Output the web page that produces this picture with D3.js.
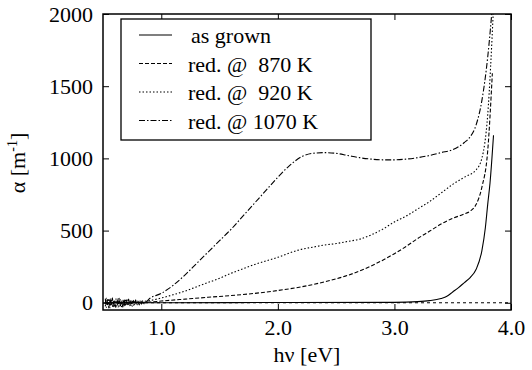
<!DOCTYPE html>
<html>
<head>
<meta charset="utf-8">
<script src="https://cdn.jsdelivr.net/npm/d3@7"></script>
</head>
<body style="margin:0">
<svg id="s" width="532" height="370"></svg>
<script>
// photon energy (eV) vs absorption coefficient (m^-1)
const asGrown = [
  [0.52, 0], [1.0, 0], [2.0, 2], [3.0, 3], [3.2, 8], [3.3, 15], [3.4, 30], [3.45, 45],
  [3.5, 75], [3.55, 105], [3.6, 140], [3.65, 175], [3.7, 230], [3.75, 360], [3.78, 520],
  [3.8, 680], [3.82, 830], [3.85, 1160]
];
const red870 = [
  [0.52, 0], [0.8, 2], [0.9, 5], [1.0, 12], [1.2, 25], [1.4, 38], [1.6, 50], [1.8, 65],
  [2.0, 85], [2.2, 110], [2.4, 145], [2.6, 190], [2.8, 255], [3.0, 340], [3.1, 390],
  [3.2, 445], [3.3, 495], [3.4, 545], [3.5, 585], [3.6, 615], [3.65, 635], [3.7, 680],
  [3.75, 800], [3.8, 1050], [3.84, 1590]
];
const red920 = [
  [0.52, -25], [0.53, 33], [0.54, -20], [0.55, 29], [0.56, -34], [0.57, 24], [0.58, -28],
  [0.59, 17], [0.60, -31], [0.61, 26], [0.62, -19], [0.63, 30], [0.64, -23], [0.65, 21],
  [0.66, -27], [0.67, 18], [0.68, -22], [0.69, 25], [0.70, -16], [0.71, 20], [0.72, -18],
  [0.73, 14], [0.74, -21], [0.75, 13], [0.76, -17], [0.77, 15], [0.78, -11], [0.79, 13],
  [0.80, -9], [0.81, 12], [0.82, -7], [0.83, 10], [0.84, -5], [0.85, 9], [0.9, 15],
  [1.0, 33], [1.1, 55], [1.2, 80], [1.3, 110], [1.4, 140], [1.5, 170], [1.6, 205],
  [1.7, 235], [1.8, 265], [1.9, 290], [2.0, 315], [2.1, 345], [2.2, 370], [2.3, 385],
  [2.4, 400], [2.5, 410], [2.6, 425], [2.7, 440], [2.8, 470], [2.9, 510], [3.0, 560],
  [3.1, 600], [3.2, 650], [3.3, 700], [3.4, 760], [3.5, 820], [3.6, 870], [3.7, 920],
  [3.75, 1000], [3.8, 1300], [3.85, 2050]
];
const red1070 = [
  [0.52, 28], [0.53, -31], [0.54, 22], [0.55, -36], [0.56, 30], [0.57, -18], [0.58, 34],
  [0.59, -27], [0.60, 19], [0.61, -33], [0.62, 25], [0.63, -29], [0.64, 31], [0.65, -22],
  [0.66, 17], [0.67, -30], [0.68, 24], [0.69, -25], [0.70, 20], [0.71, -19], [0.72, 26],
  [0.73, -21], [0.74, 15], [0.75, -24], [0.76, 18], [0.77, -14], [0.78, 21], [0.79, -17],
  [0.80, 12], [0.81, -15], [0.82, 16], [0.83, -10], [0.84, 14], [0.85, -6], [0.9, 30],
  [1.0, 65], [1.1, 120], [1.2, 190], [1.3, 270], [1.4, 350], [1.5, 430], [1.6, 510],
  [1.7, 600], [1.8, 690], [1.9, 780], [2.0, 870], [2.1, 950], [2.2, 1010], [2.3, 1035],
  [2.4, 1040], [2.5, 1035], [2.6, 1020], [2.7, 1005], [2.8, 995], [2.9, 990], [3.0, 990],
  [3.1, 995], [3.2, 1005], [3.3, 1020], [3.4, 1040], [3.5, 1060], [3.6, 1110],
  [3.65, 1150], [3.7, 1230], [3.75, 1400], [3.8, 1700], [3.84, 2050]
];

const seriesNames = ['as grown', 'red. @  870 K', 'red. @  920 K', 'red. @ 1070 K'];
const seriesData = [asGrown, red870, red920, red1070];
const seriesDash = ['none', '4,2', '1.5,2', '6,2,1.5,2'];

const xTicks = [1.0, 2.0, 3.0, 4.0];
const yTicks = [0, 500, 1000, 1500, 2000];

const svg = d3.select('#s');
const plotLeft = 103, plotRight = 511, plotTop = 14, plotBottom = 310;

const x = d3.scaleLinear().domain([0.5, 4.0]).range([plotLeft, plotRight]);
const y = d3.scaleLinear().domain([-50, 2000]).range([plotBottom, plotTop]);

svg.append('defs').append('clipPath')
    .attr('id', 'plot-clip')
  .append('rect')
    .attr('x', plotLeft).attr('y', plotTop)
    .attr('width', plotRight - plotLeft).attr('height', plotBottom - plotTop);

// axes, ticks pointing inward on all four sides
const xAxis = svg.append('g')
    .attr('transform', `translate(0,${plotBottom})`)
    .call(d3.axisBottom(x).tickValues(xTicks).tickFormat(d3.format('.1f'))
      .tickSize(-6).tickPadding(9));
const xAxisTop = svg.append('g')
    .attr('transform', `translate(0,${plotTop})`)
    .call(d3.axisTop(x).tickValues(xTicks).tickFormat('').tickSize(-6));
const yAxis = svg.append('g')
    .attr('transform', `translate(${plotLeft},0)`)
    .call(d3.axisLeft(y).tickValues(yTicks).tickFormat(d3.format('d'))
      .tickSize(-6).tickPadding(10));
const yAxisRight = svg.append('g')
    .attr('transform', `translate(${plotRight},0)`)
    .call(d3.axisRight(y).tickValues(yTicks).tickFormat('').tickSize(-6));

[xAxis, xAxisTop, yAxis, yAxisRight].forEach(g => {
  g.select('.domain').remove();
  g.selectAll('line').attr('stroke', '#000').attr('stroke-width', 1);
  g.selectAll('text')
    .attr('fill', '#000')
    .attr('font-size', 22)
    .style('font-family', '"Liberation Serif"');
});

// zero reference line
svg.append('line')
    .attr('x1', x(0.5)).attr('x2', x(4.0))
    .attr('y1', y(0)).attr('y2', y(0))
    .attr('stroke', '#000')
    .attr('stroke-width', 1)
    .attr('stroke-dasharray', '3,3');

const line = d3.line()
    .x(d => x(d[0]))
    .y(d => y(d[1]))
    .curve(d3.curveMonotoneX);

svg.append('g')
    .attr('clip-path', 'url(#plot-clip)')
  .selectAll('path')
  .data(seriesData)
  .join('path')
    .attr('d', line)
    .attr('fill', 'none')
    .attr('stroke', '#000')
    .attr('stroke-width', 1.1)
    .attr('stroke-dasharray', (d, i) => seriesDash[i]);

// frame
svg.append('rect')
    .attr('x', plotLeft).attr('y', plotTop)
    .attr('width', plotRight - plotLeft).attr('height', plotBottom - plotTop)
    .attr('fill', 'none')
    .attr('stroke', '#000')
    .attr('stroke-width', 1.5);

// legend
const legend = svg.append('g');
legend.append('rect')
    .attr('x', 121).attr('y', 19)
    .attr('width', 250).attr('height', 121)
    .attr('fill', '#fff')
    .attr('stroke', '#000')
    .attr('stroke-width', 1.3);

legend.selectAll('line.sample')
  .data(seriesNames)
  .join('line')
    .attr('class', 'sample')
    .attr('x1', 139).attr('x2', 172)
    .attr('y1', (d, i) => 35 + i * 28.5)
    .attr('y2', (d, i) => 35 + i * 28.5)
    .attr('stroke', '#000')
    .attr('stroke-width', 1.1)
    .attr('stroke-dasharray', (d, i) => seriesDash[i]);

legend.selectAll('text')
  .data(seriesNames)
  .join('text')
    .attr('x', (d, i) => i === 0 ? 191 : 188)
    .attr('y', (d, i) => 43 + i * 28.5)
    .attr('font-size', 22)
    .attr('xml:space', 'preserve')
    .style('font-family', '"Liberation Serif"')
    .text(d => d);

// axis titles
svg.append('text')
    .attr('x', 307).attr('y', 362)
    .attr('text-anchor', 'middle')
    .attr('font-size', 22)
    .style('font-family', '"Liberation Serif"')
    .text('hν [eV]');

const yTitle = svg.append('text')
    .attr('transform', 'translate(25,163) rotate(-90)')
    .attr('text-anchor', 'middle')
    .attr('font-size', 22)
    .style('font-family', '"Liberation Serif"');
yTitle.append('tspan').text('α [m');
yTitle.append('tspan').attr('dy', -8).attr('font-size', 14).text('-1');
yTitle.append('tspan').attr('dy', 8).text(']');
</script>
</body>
</html>
